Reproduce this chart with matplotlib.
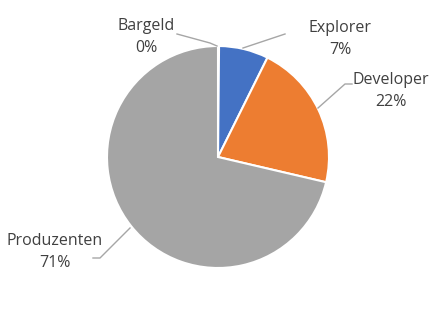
import matplotlib
matplotlib.use("Agg")
import matplotlib.pyplot as plt

categories = ["Bargeld", "Explorer", "Developer", "Produzenten"]
values = [0.15, 7.2, 21.3, 71.35]
pct_labels = ["0%", "7%", "22%", "71%"]
colors = ["#A5A5A5", "#4472C4", "#ED7D31", "#A5A5A5"]

W, H = 436, 318
CX, CY, R = 218, 157, 111

def px(x, y):
    return ((x - CX) / R, (CY - y) / R)

fig = plt.figure(figsize=(W / 100, H / 100), dpi=100)
ax = fig.add_axes([0, 0, 1, 1])
ax.pie(values, colors=colors, startangle=90, counterclock=False,
       radius=1, center=(0, 0),
       wedgeprops=dict(edgecolor="white", linewidth=1.5))
ax.set_xlim(-CX / R, (W - CX) / R)
ax.set_ylim(-(H - CY) / R, CY / R)
ax.set_aspect("auto")
ax.axis("off")

# label positions (pixel space) and leader lines
label_pos = [(146, 37), (340, 39), (391, 91), (55, 252)]
leaders = [
    [(177, 34), (210, 43), (217, 46)],
    [(285, 34), (243, 48)],
    [(352, 84), (345, 84), (318, 108)],
    [(93, 258), (100, 258), (130, 228)],
]

font = dict(family=["Open Sans", "DejaVu Sans"], size=11.5, color="#404040")
for cat, pl, (x, y) in zip(categories, pct_labels, label_pos):
    dx, dy = px(x, y)
    ax.text(dx, dy, f"{cat}\n{pl}", ha="center", va="center",
            linespacing=1.45, **font)

for pts in leaders:
    xs, ys = zip(*[px(a, b) for a, b in pts])
    ax.plot(xs, ys, color="#A6A6A6", linewidth=1)

fig.savefig("out.png", dpi=100)
